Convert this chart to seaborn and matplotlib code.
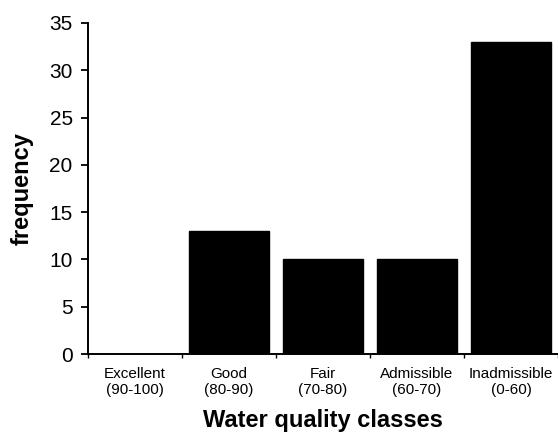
import matplotlib
matplotlib.use("Agg")
import matplotlib.pyplot as plt
import seaborn as sns
import pandas as pd

classes = ["Excellent\n(90-100)", "Good\n(80-90)", "Fair\n(70-80)",
           "Admissible\n(60-70)", "Inadmissible\n(0-60)"]
frequency = [0, 13, 10, 10, 33]
y_ticks = [0, 5, 10, 15, 20, 25, 30, 35]

sns.set_theme(style="ticks")
plt.rcParams["font.family"] = ["Liberation Sans", "DejaVu Sans"]
plt.rcParams.update({"text.color": "black", "axes.labelcolor": "black",
                     "xtick.color": "black", "ytick.color": "black"})

df = pd.DataFrame({"cls": classes, "freq": frequency})

fig = plt.figure(figsize=(5.58, 4.32), dpi=100)
ax = fig.add_axes([88 / 558, 1 - 354 / 432, 1 - 88 / 558, (354 - 23) / 432])

sns.barplot(data=df, x="cls", y="freq", color="black", width=0.85,
            saturation=1, ax=ax, edgecolor="black")

ax.set_xlim(-0.5, 4.5)
ax.set_ylim(0, 35)
ax.set_yticks(y_ticks)
ax.tick_params(axis="y", labelsize=15, length=5, width=1.3, pad=6, colors="black")
ax.tick_params(axis="x", which="major", labelsize=11, length=0, pad=9, colors="black")
ax.set_xticks([i - 0.5 for i in range(6)], minor=True)
ax.tick_params(axis="x", which="minor", length=3, width=1.0, direction="out")

ax.set_xlabel("Water quality classes", fontsize=17, fontweight="bold", labelpad=9)
ax.set_ylabel("frequency", fontsize=17, fontweight="bold", labelpad=11)

sns.despine(ax=ax, top=True, right=True)
for side in ("left", "bottom"):
    ax.spines[side].set_linewidth(1.4)
    ax.spines[side].set_color("black")

fig.savefig("out.png", dpi=100)
